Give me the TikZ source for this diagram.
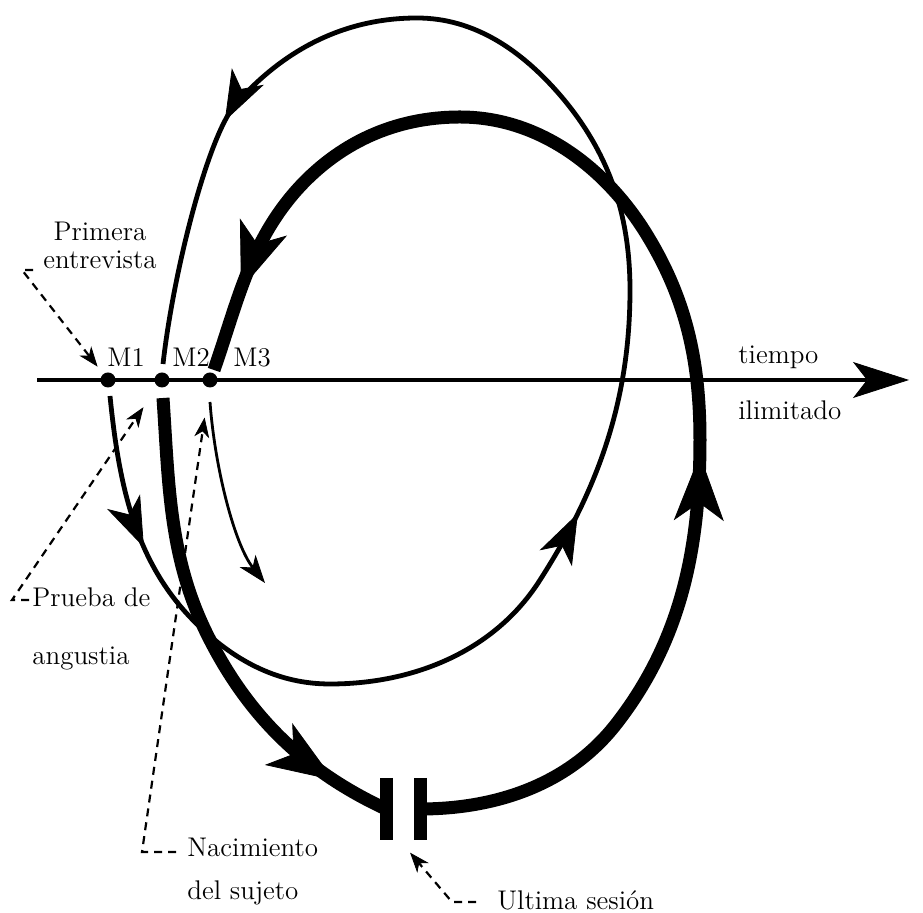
\documentclass[tikz,border=0pt]{standalone}
\usetikzlibrary{arrows.meta,decorations.markings}
\begin{document}
\begin{tikzpicture}[x=0.5pt,y=-0.5pt,
    every node/.style={inner sep=0pt,font=\fontsize{13.5}{14}\selectfont},
    dot/.style={circle,fill,minimum size=7.5pt},
    bigtip/.tip={Stealth[length=33pt,width=25pt,inset=9pt,line width=0.4pt]},
    midtip/.tip={Stealth[length=25pt,width=18pt,inset=7pt,line width=0.4pt]},
    smalltip/.tip={Stealth[length=14pt,width=10pt,inset=4pt,line width=0.4pt]},
    hinttip/.tip={Stealth[length=10pt,width=7.5pt,inset=3pt,line width=0.4pt]},
    loopline/.style={line width=2.4pt},
    heavy/.style={line width=6.5pt},
    bar/.style={line width=6.5pt},
    hint/.style={line width=1.1pt,dash pattern=on 4pt off 3pt,-hinttip},
    axisline/.style={line width=2pt,-{Stealth[length=28pt,width=18pt,inset=7pt,line width=0.4pt]}}]
  \useasboundingbox (0,0) rectangle (923,913);
  \coordinate (t0) at (37,380);
  \coordinate (t1) at (909,380);
  \draw[axisline] (t0) -- (t1);
  \node[dot] (m1) at (108,380) {};
  \node[dot] (m2) at (162,380) {};
  \node[dot] (m3) at (210,380) {};
  \node[anchor=base west] (m1lbl) at (107,367) {M1};
  \node[anchor=base west] (m2lbl) at (172,367) {M2};
  \node[anchor=base west] (m3lbl) at (233,367) {M3};
  \node[anchor=base west] (tiempo) at (738,364) {tiempo};
  \node[anchor=base west] (ilimitado) at (738,420) {ilimitado};
  \node[anchor=north,align=center] (primera) at (100,222) {Primera\\entrevista};
  \node[anchor=north west,align=left] (prueba) at (32,587) {Prueba de\\[15pt]angustia};
  \node[anchor=north west,align=left] (nacimiento) at (187,838) {Nacimiento\\[7.5pt]del sujeto};
  \node[anchor=north west] (ultima) at (497,890) {Ultima sesión};
  \coordinate (m1low) at (110,396);
  \coordinate (m2up) at (163,364);
  \coordinate (m2low) at (163,398);
  \coordinate (m3up) at (214,370);
  \coordinate (m3low) at (210,402);
  \coordinate (gapl) at (386,809);
  \coordinate (gapr) at (420,809);
  \coordinate (gapfoot) at (401,842);
  \coordinate (c1) at (22,270);
  \coordinate (c1s) at (33,270);
  \coordinate (c2) at (12,600);
  \coordinate (c2s) at (29,600);
  \coordinate (c3) at (142,852);
  \coordinate (c3s) at (176,852);
  \coordinate (c4) at (452,902);
  \coordinate (c4s) at (476,902);
  \draw[loopline,postaction={decorate},decoration={markings,
      mark=at position 0.086 with {\arrow{midtip}},
      mark=at position 0.398 with {\arrow{midtip}},
      mark=at position 0.861 with {\arrow{midtip}}}]
    (m1low) .. controls (119,485) and (135,566) .. (200,627)
    .. controls (237,662) and (279,684) .. (330,684)
    .. controls (414,684) and (495,651) .. (540,580)
    .. controls (599,488) and (630,399) .. (630,290)
    .. controls (630,215) and (609,152) .. (560,95)
    .. controls (522,51) and (475,18) .. (417,18)
    .. controls (344,18) and (283,50) .. (235,105)
    .. controls (209,135) and (174,267) .. (m2up);
  \draw[heavy,postaction={decorate},decoration={markings,
      mark=at position 0.88 with {\arrow{bigtip}}}]
    (m2low) .. controls (169,487) and (169,561) .. (210,640)
    .. controls (250,718) and (306,772) .. (gapl);
  \draw[heavy,postaction={decorate},decoration={markings,
      mark=at position 0.376 with {\arrow{bigtip}},
      mark=at position 0.937 with {\arrow{bigtip}}}]
    (gapr) .. controls (497,809) and (570,784) .. (617,723)
    .. controls (682,639) and (700,546) .. (700,440)
    .. controls (700,366) and (688,304) .. (650,240)
    .. controls (609,170) and (541,117) .. (460,117)
    .. controls (395,117) and (338,143) .. (295,192)
    .. controls (249,245) and (237,304) .. (m3up);
  \draw[line width=1.4pt,-smalltip]
    (m3low) .. controls (215,470) and (235,545) .. (265,583);
  \draw[bar] (gapl) ++(0,-31) -- ++(0,62);
  \draw[bar] (gapr) ++(0,-31) -- ++(0,62);
  \begin{scope}[hint]
    \draw[shorten >=4.5pt] (c1s) -- (c1) -- (m1);
    \draw[shorten >=12.5pt] (c2s) -- (c2) -- (m2);
    \draw[shorten >=15pt] (c3s) -- (c3) -- (m3);
    \draw[shorten >=7pt] (c4s) -- (c4) -- (gapfoot);
  \end{scope}
\end{tikzpicture}
\end{document}
